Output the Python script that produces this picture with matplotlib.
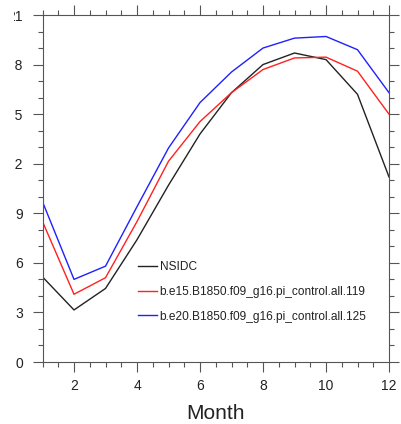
import matplotlib
matplotlib.use("Agg")
import matplotlib.pyplot as plt
from matplotlib.transforms import Bbox, TransformedBbox
from matplotlib.ticker import MultipleLocator

months = [1, 2, 3, 4, 5, 6, 7, 8, 9, 10, 11, 12]
nsidc = [5.15, 3.15, 4.45, 7.4, 10.7, 13.8, 16.3, 18.0, 18.7, 18.3, 16.2, 11.2]
e15 = [8.5, 4.1, 5.1, 8.5, 12.15, 14.55, 16.3, 17.7, 18.4, 18.45, 17.6, 15.0]
e20 = [9.7, 5.0, 5.8, 9.4, 12.95, 15.7, 17.55, 19.0, 19.6, 19.7, 18.9, 16.3]
labels = ["NSIDC", "b.e15.B1850.f09_g16.pi_control.all.119",
          "b.e20.B1850.f09_g16.pi_control.all.125"]
xticks = [2, 4, 6, 8, 10, 12]
yticks = [0, 3, 6, 9, 12, 15, 18, 21]

plt.rcParams['font.family'] = ['Liberation Sans', 'DejaVu Sans']

W, H = 401, 424
fig = plt.figure(figsize=(W / 100, H / 100), dpi=100)
ax = fig.add_axes([42.5 / W, 1 - 362 / H, (389 - 42.5) / W, (362 - 15) / H])

ax.plot(months, nsidc, color='#222222', lw=1.0, label=labels[0])
ax.plot(months, e15, color='#ff2020', lw=1.0, label=labels[1])
ax.plot(months, e20, color='#2020ff', lw=1.0, label=labels[2])

ax.set_xlim(1, 12)
ax.set_ylim(0, 21)
ax.set_xticks(xticks)
ax.set_yticks(yticks)
ax.xaxis.set_minor_locator(MultipleLocator(0.5))
ax.yaxis.set_minor_locator(MultipleLocator(1))

for sp in ax.spines.values():
    sp.set_color('#555555')
    sp.set_linewidth(0.8)

ax.tick_params(which='both', direction='out', top=True, right=True,
               color='#555555', width=0.8, labelsize=10, labelcolor='#222222')
ax.tick_params(which='major', length=7)
ax.tick_params(which='minor', length=3.5)
ax.tick_params(axis='y', which='major', pad=7.2)
ax.tick_params(axis='x', which='major', pad=5)

ax.set_xlabel("Month", fontsize=15, color='#222222', labelpad=8)

leg = ax.legend(loc='lower left', bbox_to_anchor=(0.262, 0.1), frameon=False,
                fontsize=8.6, handlelength=1.6, handletextpad=0.2,
                labelspacing=1.05, borderaxespad=0)
for t in leg.get_texts():
    t.set_color('#222222')

fig.canvas.draw()
clip = TransformedBbox(Bbox([[14.3 / W, 0], [1, 1]]), fig.transFigure)
for lab in ax.get_yticklabels():
    lab.set_clip_on(True)
    lab.set_clip_box(clip)

fig.savefig("out.png", dpi=100)
